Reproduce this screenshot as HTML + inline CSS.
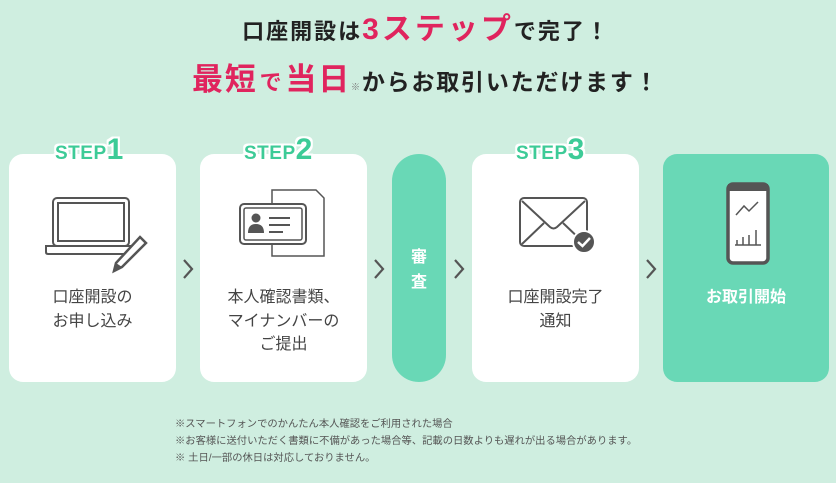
<!DOCTYPE html>
<html><head><meta charset="utf-8"><style>
*{margin:0;padding:0;box-sizing:border-box}
body{width:836px;height:483px;background:#cfeee0;position:relative;overflow:hidden;font-family:"Liberation Sans","Noto Sans CJK JP",sans-serif;color:#333}
.a{position:absolute}
.card{position:absolute;top:154px;height:228px;background:#fff;border-radius:14px}
.g{background:#69d8b6}
.t{position:absolute;text-align:center;font-size:16px;line-height:23.5px;color:#444;white-space:nowrap}
.step{position:absolute;color:#3dcb97;font-weight:bold;white-space:nowrap;text-shadow:2px 0 #fff,-2px 0 #fff,0 2px #fff,0 -2px #fff,2px 2px #fff,-2px -2px #fff,2px -2px #fff,-2px 2px #fff}
.step b{font-size:19px;letter-spacing:0.5px}
.step i{font-style:normal;font-size:30px}
.chev{position:absolute;top:258px;width:12px;height:22px}
.pink{color:#e0245e}
</style></head><body>
<div class="a" style="left:8px;width:836px;top:12px;text-align:center;font-weight:bold;font-size:22px;color:#222;white-space:nowrap;line-height:36px;letter-spacing:2px">口座開設は<span class="pink" style="font-size:30px;letter-spacing:3px">3ステップ</span>で完了！</div>
<div class="a" style="left:192px;top:60px;font-weight:bold;color:#222;white-space:nowrap;line-height:40px;font-size:23px;letter-spacing:1.8px"><span class="pink" style="font-size:31px">最短</span><span class="pink" style="font-size:22px;margin:0 2px">で</span><span class="pink" style="font-size:31px">当日</span><span style="font-size:9px;color:#777;font-weight:normal">※</span>からお取引いただけます！</div>

<div class="card" style="left:9px;width:167px"></div>
<div class="card" style="left:200px;width:167px"></div>
<div class="card g" style="left:392px;width:54px;border-radius:27px"></div>
<div class="card" style="left:472px;width:167px"></div>
<div class="card g" style="left:663px;width:166px"></div>

<div class="step" style="left:55px;top:133px"><b>STEP</b><i>1</i></div>
<div class="step" style="left:244px;top:133px"><b>STEP</b><i>2</i></div>
<div class="step" style="left:516px;top:133px"><b>STEP</b><i>3</i></div>

<svg class="a" style="left:44px;top:195px" width="108" height="80" viewBox="0 0 108 80">
<rect x="9" y="3" width="76" height="48" rx="4" fill="none" stroke="#555" stroke-width="2"/>
<rect x="14" y="8" width="66" height="38" fill="none" stroke="#555" stroke-width="2"/>
<path d="M2 51 H92 V57 Q92 59 90 59 H4 Q2 59 2 57 Z" fill="none" stroke="#555" stroke-width="2"/>
<path d="M96 42 L102 48 L78 72 L70 76 L72 68 Z" fill="#fff" stroke="#555" stroke-width="2.5"/>
<path d="M70 76 L72 68 L78 72 Z" fill="#555"/>
</svg>
<svg class="a" style="left:238px;top:188px" width="90" height="72" viewBox="0 0 90 72">
<path d="M34 2 H78 L86 10 V68 H34 Z" fill="#fff" stroke="#555" stroke-width="1.5"/>
<rect x="2" y="16" width="66" height="40" rx="4" fill="#fff" stroke="#555" stroke-width="2"/>
<rect x="6" y="20" width="58" height="32" rx="2" fill="none" stroke="#555" stroke-width="1.5"/>
<circle cx="18" cy="30" r="4.5" fill="#555"/><path d="M10 45 Q10 36 18 36 Q26 36 26 45 Z" fill="#555"/>
<path d="M31 30 H52 M31 37 H52 M31 44 H45" stroke="#555" stroke-width="2"/>
</svg>
<svg class="a" style="left:518px;top:195px" width="80" height="60" viewBox="0 0 80 60">
<rect x="2" y="3" width="67" height="48" rx="4" fill="#fff" stroke="#555" stroke-width="2"/>
<path d="M4 6 L32 32 Q35.5 35 39 32 L67 6 M4 49 L26 28 M67 49 L45 28" fill="none" stroke="#555" stroke-width="2"/>
<circle cx="66" cy="47" r="11" fill="#555" stroke="#fff" stroke-width="2"/>
<path d="M60 47 L64.5 51 L72 43" fill="none" stroke="#fff" stroke-width="2.5"/>
</svg>
<svg class="a" style="left:726px;top:182px" width="44" height="84" viewBox="0 0 44 84">
<rect x="2" y="2" width="40" height="79" rx="5" fill="#fff" stroke="#555" stroke-width="3.5"/>
<rect x="2" y="2" width="40" height="7" fill="#555"/>
<path d="M10 33 L18 24 L23 29 L32 20" fill="none" stroke="#555" stroke-width="1.5"/>
<path d="M9 63 H35 M11 63 V58 M17 63 V55 M23 63 V53 M30 63 V48" stroke="#555" stroke-width="1.5"/>
</svg>

<div class="t" style="left:9px;width:167px;top:286px">口座開設の<br>お申し込み</div>
<div class="t" style="left:200px;width:167px;top:286px">本人確認書類、<br>マイナンバーの<br>ご提出</div>
<div class="t" style="left:392px;width:54px;top:245px;color:#fff;font-weight:bold;line-height:25px">審<br>査</div>
<div class="t" style="left:472px;width:167px;top:286px">口座開設完了<br>通知</div>
<div class="t" style="left:663px;width:166px;top:286px;color:#fff;font-weight:bold">お取引開始</div>

<svg class="chev" style="left:182px" viewBox="0 0 12 22"><path d="M2 2 L10 11 L2 20" fill="none" stroke="#555" stroke-width="2.2"/></svg>
<svg class="chev" style="left:373px" viewBox="0 0 12 22"><path d="M2 2 L10 11 L2 20" fill="none" stroke="#555" stroke-width="2.2"/></svg>
<svg class="chev" style="left:453px" viewBox="0 0 12 22"><path d="M2 2 L10 11 L2 20" fill="none" stroke="#555" stroke-width="2.2"/></svg>
<svg class="chev" style="left:645px" viewBox="0 0 12 22"><path d="M2 2 L10 11 L2 20" fill="none" stroke="#555" stroke-width="2.2"/></svg>

<div class="a" style="left:175px;top:416px;font-size:10.3px;line-height:17px;color:#555;white-space:nowrap">※スマートフォンでのかんたん本人確認をご利用された場合<br>※お客様に送付いただく書類に不備があった場合等、記載の日数よりも遅れが出る場合があります。<br>※ 土日/一部の休日は対応しておりません。</div>
</body></html>
